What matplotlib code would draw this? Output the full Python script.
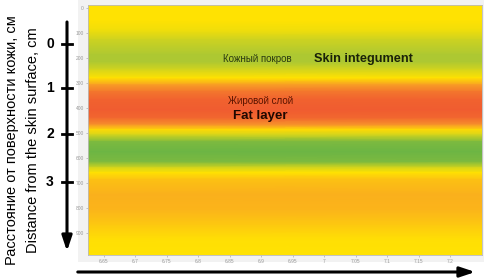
import numpy as np
import matplotlib
matplotlib.use("Agg")
import matplotlib.pyplot as plt
from matplotlib.colors import LinearSegmentedColormap
from matplotlib.patches import FancyArrowPatch

plt.rcParams["font.family"] = ["Liberation Sans", "DejaVu Sans"]

# depth (instrument units) and relative signal
depth = [-12, 48, 88, 128, 188, 216, 248, 280, 308, 336, 368, 408, 440, 468,
         488, 508, 536, 576, 616, 640, 660, 688, 748, 808, 868, 928, 990]
signal = [0.42, 0.42, 0.38, 0.27, 0.18, 0.18, 0.30, 0.42, 0.70, 0.88, 0.97, 1.0,
          0.95, 0.75, 0.45, 0.30, 0.05, 0.0, 0.05, 0.30, 0.42, 0.55, 0.62, 0.60,
          0.52, 0.43, 0.42]
x_edges = [6.625, 7.25]
x_ticks = [6.65, 6.7, 6.75, 6.8, 6.85, 6.9, 6.95, 7, 7.05, 7.1, 7.15, 7.2]
x_ticklabels = ["6.65", "6.7", "6.75", "6.8", "6.85", "6.9", "6.95", "7", "7.05", "7.1", "7.15", "7.2"]
y_ticks = [0, 100, 200, 300, 400, 500, 600, 700, 800, 900]

# cm scale on the left: centimetres and where they fall in depth units
cm_labels = ["0", "1", "2", "3"]
cm_pos = [144, 320, 504, 696]

cmap = LinearSegmentedColormap.from_list(
    "skin", [(0.0, "#6cb544"), (0.2, "#b4ca30"), (0.42, "#ffe202"),
             (0.6, "#fbb41a"), (0.75, "#f7942a"), (1.0, "#f05c30")])

fig = plt.figure(figsize=(4.84, 2.80), dpi=100)

# light grey panel behind the plot
bg = fig.add_axes([78 / 484, 18 / 280, 406 / 484, 262 / 280], zorder=-1)
bg.set_facecolor("#f2f2f2")
bg.set_xticks([])
bg.set_yticks([])
for s in bg.spines.values():
    s.set_visible(False)

ax = fig.add_axes([88 / 484, 25 / 280, 394 / 484, 250 / 280])
X, Y = np.meshgrid(x_edges, depth)
Z = np.tile(np.array(signal)[:, None], (1, len(x_edges)))
ax.pcolormesh(X, Y, Z, cmap=cmap, vmin=0, vmax=1, shading="gouraud")
ax.set_xlim(x_edges[0], x_edges[-1])
ax.set_ylim(990, -12)
ax.set_xticks(x_ticks)
ax.set_xticklabels(x_ticklabels)
ax.set_yticks(y_ticks)
ax.tick_params(labelsize=3.5, colors="#999999", length=1.5, width=0.4, pad=1.5)
for s in ax.spines.values():
    s.set_color("#bbbbbb")
    s.set_linewidth(0.6)

ax.text(6.894, 204, "Кожный покров", fontsize=7, color="#2a3a10", ha="center", va="center")
ax.text(7.062, 204, "Skin integument", fontsize=9.2, fontweight="bold", color="#1a2208",
        ha="center", va="center")
ax.text(6.898, 372, "Жировой слой", fontsize=7, color="#5a1400", ha="center", va="center")
ax.text(6.899, 432, "Fat layer", fontsize=9.5, fontweight="bold", color="#200800",
        ha="center", va="center")

# centimetre arrow on the left
axc = fig.add_axes([57 / 484, 25 / 280, 20 / 484, 250 / 280])
axc.set_xlim(-1, 1)
axc.set_ylim(990, -12)
axc.axis("off")
axc.annotate("", xy=(0, 975), xytext=(0, 56),
             arrowprops=dict(arrowstyle="-|>,head_width=0.3,head_length=0.9",
                             lw=2.2, color="black", shrinkA=0, shrinkB=0))
for lab, p in zip(cm_labels, cm_pos):
    axc.plot([-0.5, 0.5], [p, p], color="black", lw=2, clip_on=False)
    axc.text(-1.7, p, lab, fontsize=10, fontweight="bold", ha="center", va="center")

fig.text(12 / 484, 140 / 280, "Расстояние от поверхности кожи, см", rotation=90,
         fontsize=10.5, ha="center", va="center")
fig.text(33 / 484, 140 / 280, "Distance from the skin surface, cm", rotation=90,
         fontsize=10.5, ha="center", va="center")

fig.patches.append(FancyArrowPatch(
    (75 / 484, 8 / 280), (478 / 484, 8 / 280), transform=fig.transFigure,
    arrowstyle="-|>,head_width=0.3,head_length=0.9", lw=2.2, color="black",
    mutation_scale=10))

fig.savefig("out.png", dpi=100)
